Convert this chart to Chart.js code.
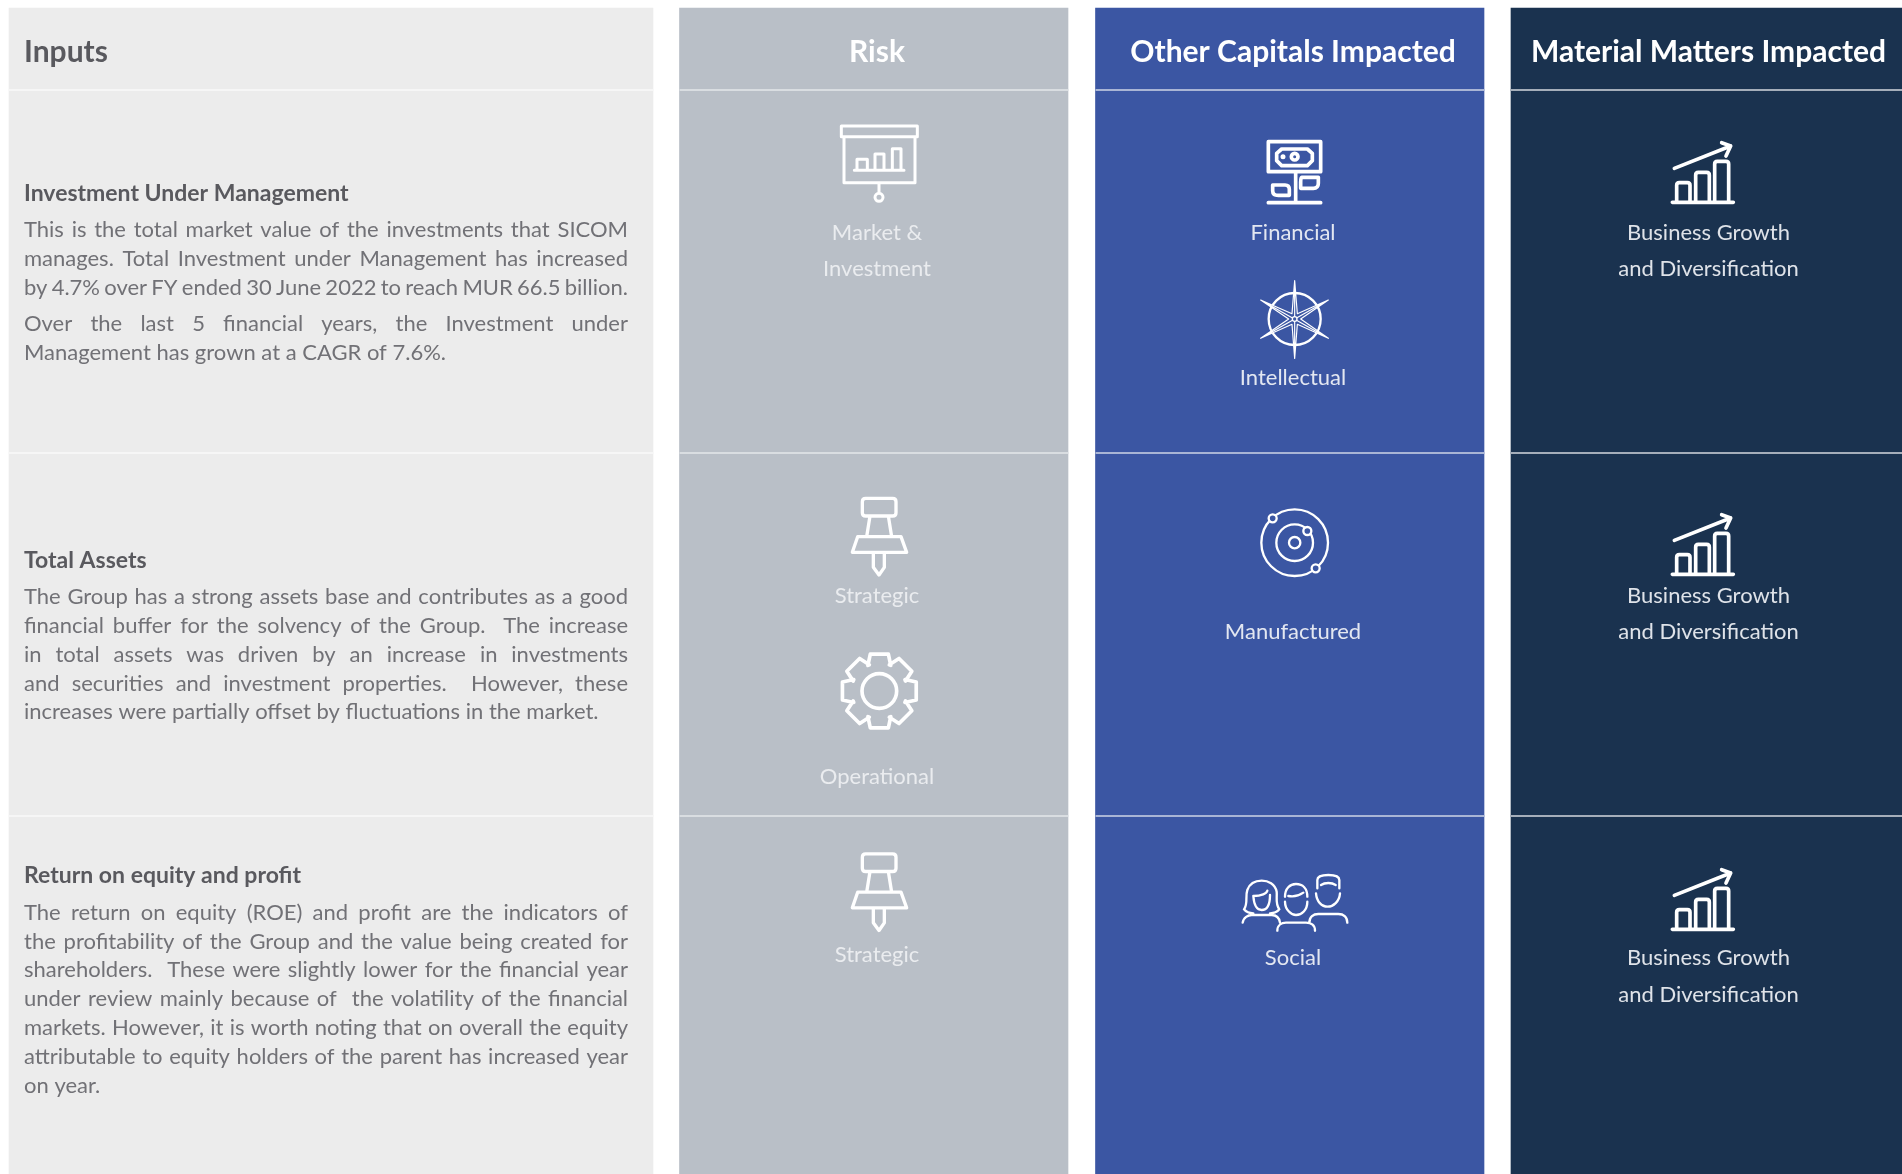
<!DOCTYPE html>
<html>
<head>
<meta charset="utf-8">
<title>Inputs, risk, capitals and material matters</title>
<style>
  html, body { margin: 0; padding: 0; background: #fff; }
  canvas { display: block; }
</style>
<script src="https://cdn.jsdelivr.net/npm/chart.js@4/dist/chart.umd.min.js"></script>
</head>
<body>
<canvas id="table-chart" width="1902" height="1174"></canvas>
<script>
var columnHeaders = ["Inputs", "Risk", "Other Capitals Impacted", "Material Matters Impacted"];
var rowTitles = ["Investment Under Management", "Total Assets", "Return on equity and profit"];

var rowOneBody = [
    "This is the total market value of the investments that SICOM",
    "manages. Total Investment under Management has increased",
    "by 4.7% over FY ended 30 June 2022 to reach MUR 66.5 billion.",
    "Over the last 5 financial years, the Investment under",
    "Management has grown at a CAGR of 7.6%."
];
var rowTwoBody = [
    "The Group has a strong assets base and contributes as a good",
    "financial buffer for the solvency of the Group.  The increase",
    "in total assets was driven by an increase in investments",
    "and securities and investment properties.  However, these",
    "increases were partially offset by fluctuations in the market."
];
var rowThreeBody = [
    "The return on equity (ROE) and profit are the indicators of",
    "the profitability of the Group and the value being created for",
    "shareholders.  These were slightly lower for the financial year",
    "under review mainly because of  the volatility of the financial",
    "markets. However, it is worth noting that on overall the equity",
    "attributable to equity holders of the parent has increased year",
    "on year."
];
var riskLabels = ["Market &", "Investment", "Strategic", "Operational", "Strategic"];
var capitalLabels = ["Financial", "Intellectual", "Manufactured", "Social"];
var matterLabels = ["Business Growth", "and Diversification"];

// layout, in page pixels (the two axes run 1:1 with the canvas)
var colEdges = [[9, 653], [679.5, 1068], [1095.5, 1484], [1511, 1902]];
var rowEdges = [8, 90, 453, 816, 1174];
var colColors = ["#ececec", "#b9bfc7", "#3b56a3", "#1a324f"];
var lineColors = ["#f6f6f6", "#d9dde1", "#a9b5d5", "#a5aeba"];
var grey = "#717176", greyDark = "#59595e";

var datasets = colEdges.map(function (edge, c) {
    var data = [];
    for (var r = 0; r < rowEdges.length - 1; r++) {
        data.push({ x: (edge[0] + edge[1]) / 2, y: [rowEdges[r], rowEdges[r + 1]] });
    }
    return {
        label: columnHeaders[c],
        data: data,
        backgroundColor: colColors[c],
        borderWidth: 0,
        barThickness: edge[1] - edge[0],
        grouped: false
    };
});

// icon outlines are in 3x crop units, anchored at the given page origin
function gearPath(cx, cy) {
    var d = "";
    for (var i = 0; i < 8; i++) {
        var a = -Math.PI / 2 + i * Math.PI / 4;
        var pts = [[84, -0.42], [114, -0.24], [114, 0.24], [84, 0.42]];
        pts.forEach(function (p, k) {
            var x = cx + p[0] * Math.cos(a + p[1]);
            var y = cy + p[0] * Math.sin(a + p[1]);
            d += ((i === 0 && k === 0) ? "M" : "L") + x.toFixed(1) + " " + y.toFixed(1);
        });
    }
    return d + "Z M" + (cx + 52) + " " + cy + "A52 52 0 1 1 " + (cx - 52) + " " + cy + "A52 52 0 1 1 " + (cx + 52) + " " + cy;
}
function ring(x, y, r) {
    return "M" + (x + r) + " " + y + "A" + r + " " + r + " 0 1 1 " + (x - r) + " " + y + "A" + r + " " + r + " 0 1 1 " + (x + r) + " " + y;
}
var pinPath = "M127 65Q127 55 137 55H218Q228 55 228 65V98Q228 108 218 108H137Q127 108 127 98Z M150 108L140 170 M205 108L215 170 M113 170H243L260 217H97Z M160 217V262L177 285L193 262V217";
var growthPath = "M97 247H280 M110 247V196Q110 188 118 188H142Q150 188 150 196V247 M167 247V165Q167 157 175 157H200Q208 157 208 165V247 M224 247V132Q224 124 232 124H258Q266 124 266 132V247 M103 145L272 78 M245 68L272 78L258 108";
var presentPath = "M184 78H412V110H184Z M192 110V248H405V110 M223 211H372 M231 211V178H262V211 M285 211V162H312V211 M337 211V146H363V211 M297 248V280 " + ring(297, 292, 12);
var moneyPath = "M205 65H362V155H205Z M287 155V248 M205 248H362 M245 87H322L337 100V122L322 137H245L230 122V100Z " + ring(284, 110, 10) + " " + ring(249, 110, 2) +
    " M218 195H255Q268 195 268 208V226H235Q218 226 218 212Z M305 172H355V190Q355 205 340 205H302V187Q302 172 305 172Z";
var starPath = "M284 482L292 581L385 540L302 597L385 655L292 613L284 715L276 613L182 655L266 597L182 540L276 581Z M284 482V715 M182 540L385 655 M385 540L182 655";
var socialPath = "M72 148C85 130 75 110 82 90C90 68 110 62 125 62C145 62 165 72 170 95C172 115 165 130 178 148C170 158 160 160 150 160 M72 148C80 158 90 160 100 160 M100 108C102 135 112 150 125 150C140 150 150 135 150 105 M100 108C125 108 140 100 142 92 M68 188C70 172 85 165 95 165H155C170 165 178 175 180 188" +
    " M195 125C195 150 215 165 228 165C245 165 262 150 262 125 M195 110C195 85 210 72 228 72C248 72 262 85 262 110 M205 108C225 112 240 105 250 98 M172 212C172 195 185 188 198 188H258C272 188 285 195 285 212" +
    " M292 85V60C292 50 305 45 325 45C345 45 358 50 358 60V85 M303 75C315 67 335 67 347 75 M288 100C290 125 305 140 323 140C340 140 358 125 360 100 M268 188C268 170 280 162 295 162H355C370 162 382 170 382 188";

var icons = [
    { d: presentPath, x: 780, y: 100, lw: 9 },
    { d: pinPath, x: 820, y: 480, lw: 10 },
    { d: gearPath(178, 633), x: 820, y: 480, lw: 11 },
    { d: pinPath, x: 820, y: 835.5, lw: 10 },
    { d: moneyPath, x: 1200, y: 120, lw: 11 },
    { d: ring(284, 597, 78), x: 1200, y: 120, lw: 7 },
    { d: starPath, x: 1200, y: 120, lw: 3.5, fill: colColors[2] },
    { d: ring(284, 597, 7), x: 1200, y: 120, lw: 4, fill: colColors[2] },
    { d: ring(224, 158, 100) + " " + ring(224, 158, 55) + " " + ring(224, 158, 17), x: 1220, y: 490, lw: 7 },
    { d: ring(158, 85, 12) + " " + ring(262, 123, 12) + " " + ring(287, 235, 12), x: 1220, y: 490, lw: 7, fill: colColors[2] },
    { d: socialPath, x: 1220, y: 860, lw: 7 },
    { d: growthPath, x: 1640, y: 120, lw: 11 },
    { d: growthPath, x: 1640, y: 492, lw: 11 },
    { d: growthPath, x: 1640, y: 847, lw: 11 }
];

var bodyBlocks = [
    { lines: rowOneBody, ys: [230, 259, 288, 324, 353], last: [4] },
    { lines: rowTwoBody, ys: [597, 625.5, 654.5, 683.5, 712], last: [4] },
    { lines: rowThreeBody, ys: [913, 941.5, 970, 999, 1028, 1057, 1086], last: [6] }
];
var titleYs = [194, 560.5, 876];
var labelSpots = [
    [riskLabels[0], 877, 233], [riskLabels[1], 877, 269], [riskLabels[2], 877, 596], [riskLabels[3], 877, 777], [riskLabels[4], 877, 955],
    [capitalLabels[0], 1293, 233], [capitalLabels[1], 1293, 378], [capitalLabels[2], 1293, 632], [capitalLabels[3], 1293, 958],
    [matterLabels[0], 1708.5, 233], [matterLabels[1], 1708.5, 269], [matterLabels[0], 1708.5, 596], [matterLabels[1], 1708.5, 632], [matterLabels[0], 1708.5, 958], [matterLabels[1], 1708.5, 995]
];
var bodyFont = "400 22px Lato", labelFont = "400 22px Lato";

var tablePlugin = {
    id: "tableText",
    afterDatasetsDraw: function (chart) {
        var ctx = chart.ctx, sx = chart.scales.x, sy = chart.scales.y;
        ctx.save();

        // row rules
        colEdges.forEach(function (edge, c) {
            ctx.fillStyle = lineColors[c];
            rowEdges.slice(1, 4).forEach(function (r) {
                ctx.fillRect(sx.getPixelForValue(edge[0]), sy.getPixelForValue(r) - 1, edge[1] - edge[0], 2);
            });
        });

        ctx.textBaseline = "middle";

        // headers
        ctx.font = "700 30px Lato";
        ctx.textAlign = "left";
        ctx.fillStyle = greyDark;
        ctx.fillText(columnHeaders[0], sx.getPixelForValue(24), sy.getPixelForValue(52));
        ctx.textAlign = "center";
        ctx.fillStyle = "#ffffff";
        ctx.fillText(columnHeaders[1], sx.getPixelForValue(877), sy.getPixelForValue(52));
        ctx.fillText(columnHeaders[2], sx.getPixelForValue(1293), sy.getPixelForValue(52));
        ctx.fillText(columnHeaders[3], sx.getPixelForValue(1708.5), sy.getPixelForValue(52));

        // left column
        ctx.textAlign = "left";
        ctx.font = "700 23px Lato";
        ctx.fillStyle = greyDark;
        rowTitles.forEach(function (t, i) {
            ctx.fillText(t, sx.getPixelForValue(24), sy.getPixelForValue(titleYs[i]));
        });
        ctx.font = bodyFont;
        ctx.fillStyle = grey;
        bodyBlocks.forEach(function (block) {
            block.lines.forEach(function (line, i) {
                ctx.wordSpacing = "0px";
                if (block.last.indexOf(i) < 0) {
                    var gaps = line.split(" ").length - 1;
                    var extra = (628 - 24 - ctx.measureText(line).width) / gaps;
                    ctx.wordSpacing = extra.toFixed(2) + "px";
                }
                ctx.fillText(line, sx.getPixelForValue(24), sy.getPixelForValue(block.ys[i]));
            });
        });
        ctx.wordSpacing = "0px";

        // labels under the icons
        ctx.textAlign = "center";
        ctx.font = labelFont;
        labelSpots.forEach(function (s) {
            ctx.fillStyle = s[1] < 1000 ? "#eaecef" : (s[1] < 1500 ? "#e3e7f1" : "#dfe3e9");
            ctx.fillText(s[0], sx.getPixelForValue(s[1]), sy.getPixelForValue(s[2]));
        });

        // icons
        ctx.strokeStyle = "#ffffff";
        ctx.lineJoin = "round";
        ctx.lineCap = "round";
        icons.forEach(function (icon) {
            ctx.save();
            ctx.translate(sx.getPixelForValue(icon.x), sy.getPixelForValue(icon.y));
            ctx.scale(1 / 3, 1 / 3);
            ctx.lineWidth = icon.lw;
            var path = new Path2D(icon.d);
            if (icon.fill) {
                ctx.fillStyle = icon.fill;
                ctx.fill(path);
            }
            ctx.stroke(path);
            ctx.restore();
        });
        ctx.restore();
    }
};

var tableChart = new Chart(document.getElementById("table-chart").getContext("2d"), {
    type: "bar",
    data: { datasets: datasets },
    plugins: [tablePlugin],
    options: {
        responsive: false,
        animation: false,
        layout: { padding: 0 },
        plugins: { legend: { display: false }, tooltip: { enabled: false } },
        scales: {
            x: { type: "linear", display: false, min: 0, max: 1902, offset: false },
            y: { type: "linear", display: false, min: 0, max: 1174, reverse: true }
        }
    }
});
</script>
</body>
</html>
